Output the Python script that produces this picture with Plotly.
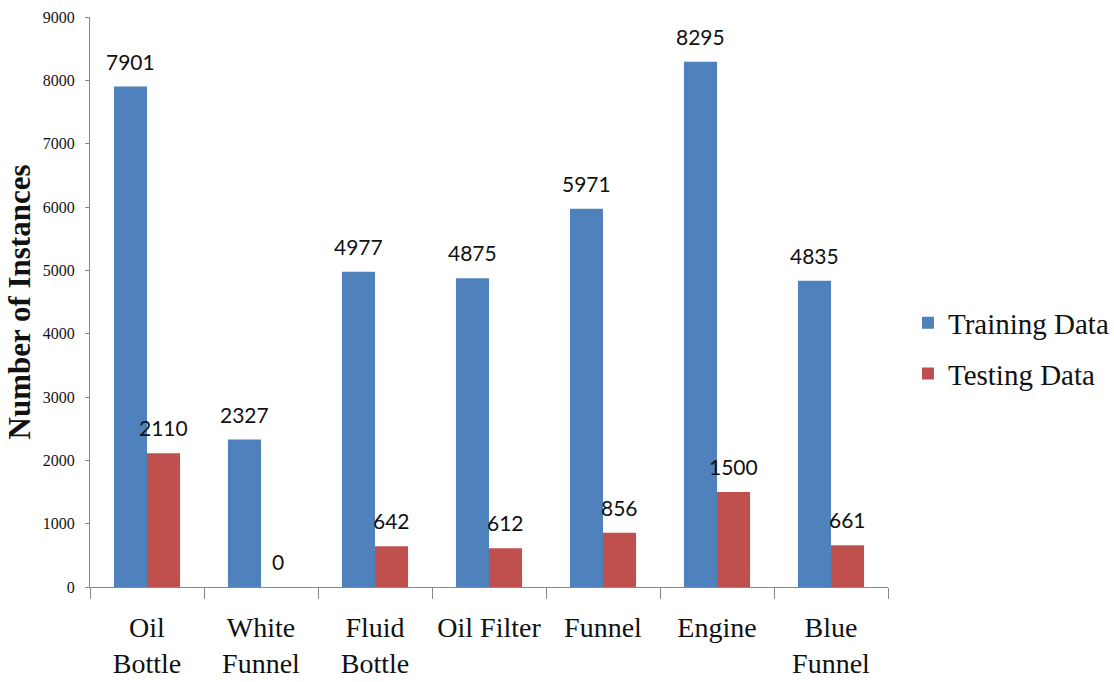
import plotly.graph_objects as go

categories = ["Oil<br>Bottle", "White<br>Funnel", "Fluid<br>Bottle", "Oil Filter", "Funnel", "Engine", "Blue<br>Funnel"]
training = [7901, 2327, 4977, 4875, 5971, 8295, 4835]
testing = [2110, 0, 642, 612, 856, 1500, 661]
y_ticks = [0, 1000, 2000, 3000, 4000, 5000, 6000, 7000, 8000, 9000]

SERIF = "Liberation Serif, Times New Roman, serif"
label_font = dict(family="Lato, Carlito, Open Sans, sans-serif", size=21, color="#111")

fig = go.Figure()
fig.add_trace(go.Bar(
    x=categories, y=training, name="Training Data",
    marker=dict(color="#4F81BD", line=dict(width=0)),
    legendgroup="a",
))
fig.add_trace(go.Bar(
    x=categories, y=testing, name="Testing Data",
    marker=dict(color="#C0504D", line=dict(width=0)),
    legendgroup="b",
))

bar_px = 16.5
for series, shift in ((training, -bar_px), (testing, bar_px)):
    for c, v in zip(categories, series):
        fig.add_annotation(x=c, y=v, text=str(v), showarrow=False,
                           xanchor="center", yanchor="bottom",
                           xshift=shift, yshift=11, font=label_font)

fig.update_layout(
    width=1114, height=682,
    margin=dict(l=90, r=226, t=17, b=95, autoexpand=False),
    paper_bgcolor="white", plot_bgcolor="white",
    barmode="group", bargap=0.42, bargroupgap=0,
    font=dict(family=SERIF, color="#111"),
    legend=dict(
        x=1.025, y=0.508, xanchor="left", yanchor="top",
        font=dict(family=SERIF, size=29, color="#111"),
        traceorder="grouped", tracegroupgap=10,
        itemwidth=30,
    ),
    xaxis=dict(
        showline=True, linecolor="#888", linewidth=1,
        ticks="outside", tickson="boundaries", ticklen=11, tickcolor="#888",
        tickfont=dict(family=SERIF, size=28, color="#111"),
        tickangle=0, automargin=False,
        ticklabelstandoff=15,
        showgrid=False,
    ),
    yaxis=dict(
        range=[0, 9000], tickvals=y_ticks,
        showline=True, linecolor="#888", linewidth=1,
        ticks="outside", ticklen=4, tickcolor="#888",
        tickfont=dict(family=SERIF, size=16, color="#111"),
        ticklabelstandoff=7,
        showgrid=False, zeroline=False, automargin=False,
        title=dict(text="<b>Number of Instances</b>",
                   font=dict(family=SERIF, size=31, color="#111"),
                   standoff=2),
    ),
)

fig.write_html("out.html")
